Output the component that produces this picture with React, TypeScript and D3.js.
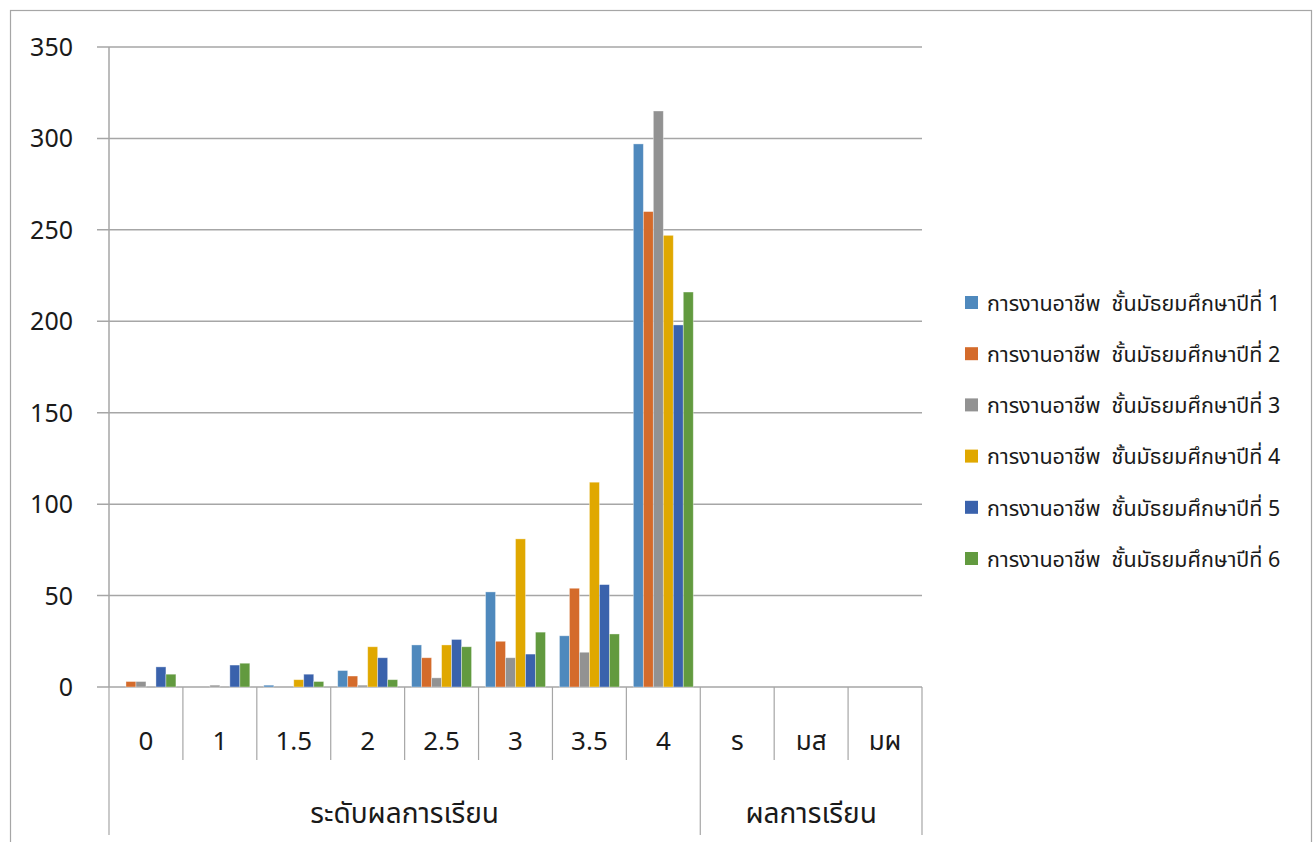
import React from 'react';
import * as d3 from 'd3';

const categories = ['0', '1', '1.5', '2', '2.5', '3', '3.5', '4', 'ร', 'มส', 'มผ'];
const groups = [
  { label: 'ระดับผลการเรียน', from: 0, to: 7 },
  { label: 'ผลการเรียน', from: 8, to: 10 },
];
const seriesNames = [
  'การงานอาชีพ  ชั้นมัธยมศึกษาปีที่ 1',
  'การงานอาชีพ  ชั้นมัธยมศึกษาปีที่ 2',
  'การงานอาชีพ  ชั้นมัธยมศึกษาปีที่ 3',
  'การงานอาชีพ  ชั้นมัธยมศึกษาปีที่ 4',
  'การงานอาชีพ  ชั้นมัธยมศึกษาปีที่ 5',
  'การงานอาชีพ  ชั้นมัธยมศึกษาปีที่ 6',
];
const m1 = [0, 0, 1, 9, 23, 52, 28, 297, 0, 0, 0];
const m2 = [3, 0, 0, 6, 16, 25, 54, 260, 0, 0, 0];
const m3 = [3, 1, 0, 1, 5, 16, 19, 315, 0, 0, 0];
const m4 = [0, 0, 4, 22, 23, 81, 112, 247, 0, 0, 0];
const m5 = [11, 12, 7, 16, 26, 18, 56, 198, 0, 0, 0];
const m6 = [7, 13, 3, 4, 22, 30, 29, 216, 0, 0, 0];
const seriesValues = [m1, m2, m3, m4, m5, m6];
const colors = ['#4F89BD', '#D46B2B', '#929292', '#E0A800', '#3A62AC', '#629A3F'];
const yTicks = [0, 50, 100, 150, 200, 250, 300, 350];

const FONT = "Tahoma, 'Noto Sans Thai', 'Noto Sans', sans-serif";
const GRID = '#a6a6a6';

const App: React.FC = () => {
  const left = 109, right = 922, top = 47, bottom = 687;
  const y = d3.scaleLinear().domain([0, 350]).range([bottom, top]);
  const x = d3.scaleBand<string>().domain(categories).range([left, right]).padding(0);
  const xs = d3.scaleBand<number>()
    .domain(d3.range(seriesNames.length))
    .range([0, x.bandwidth()])
    .paddingInner(0)
    .paddingOuter(0.7);

  const edge = (i: number) => left + i * x.step();

  return (
    <svg width={1316} height={842} style={{ position: 'absolute', left: 0, top: 0, background: '#fff' }}
      fontFamily={FONT}>
      <rect x={10.5} y={10.5} width={1301} height={850} fill="#fff" stroke={GRID} strokeWidth={1.2} />

      {/* gridlines + y labels */}
      {yTicks.map(t => (
        <g key={t}>
          <line x1={97} x2={right} y1={y(t)} y2={y(t)} stroke={GRID} strokeWidth={1.5} />
          <text x={73} y={y(t)} dy="0.36em" textAnchor="end" fontSize={25} fill="#1a1a1a">{t}</text>
        </g>
      ))}
      <line x1={left} x2={left} y1={top} y2={bottom} stroke={GRID} strokeWidth={1.5} />

      {/* bars */}
      {seriesValues.map((vals, s) => (
        <g key={s} fill={colors[s]}>
          {vals.map((v, i) => v > 0 ? (
            <rect key={i}
              x={(x(categories[i]) as number) + (xs(s) as number)}
              y={y(v)}
              width={xs.bandwidth()}
              height={y(0) - y(v)}
              stroke="#ffffff" strokeOpacity={0.45} strokeWidth={0.8} />
          ) : null)}
        </g>
      ))}

      {/* x axis with category ticks */}
      {d3.range(categories.length + 1).map(i => {
        const isGroupEdge = i === 0 || groups.some(g => g.to + 1 === i);
        return (
          <line key={i} x1={edge(i)} x2={edge(i)} y1={bottom} y2={isGroupEdge ? 835 : 760}
            stroke={GRID} strokeWidth={1.2} />
        );
      })}
      {categories.map(c => (
        <text key={c} x={(x(c) as number) + x.bandwidth() / 2} y={741} dy="0.36em"
          textAnchor="middle" fontSize={26} fill="#1a1a1a">{c}</text>
      ))}
      {groups.map(g => (
        <text key={g.label} x={(edge(g.from) + edge(g.to + 1)) / 2} y={813} dy="0.36em"
          textAnchor="middle" fontSize={28} fill="#1a1a1a">{g.label}</text>
      ))}

      {/* legend */}
      {seriesNames.map((n, i) => (
        <g key={n} transform={`translate(965,${303 + i * 51.2})`}>
          <rect x={0} y={-7} width={13} height={13} fill={colors[i]} />
          <text x={22} y={0} dy="0.36em" fontSize={21.5} fill="#1a1a1a"
            style={{ whiteSpace: 'pre' }}>{n}</text>
        </g>
      ))}
    </svg>
  );
};

export default App;
